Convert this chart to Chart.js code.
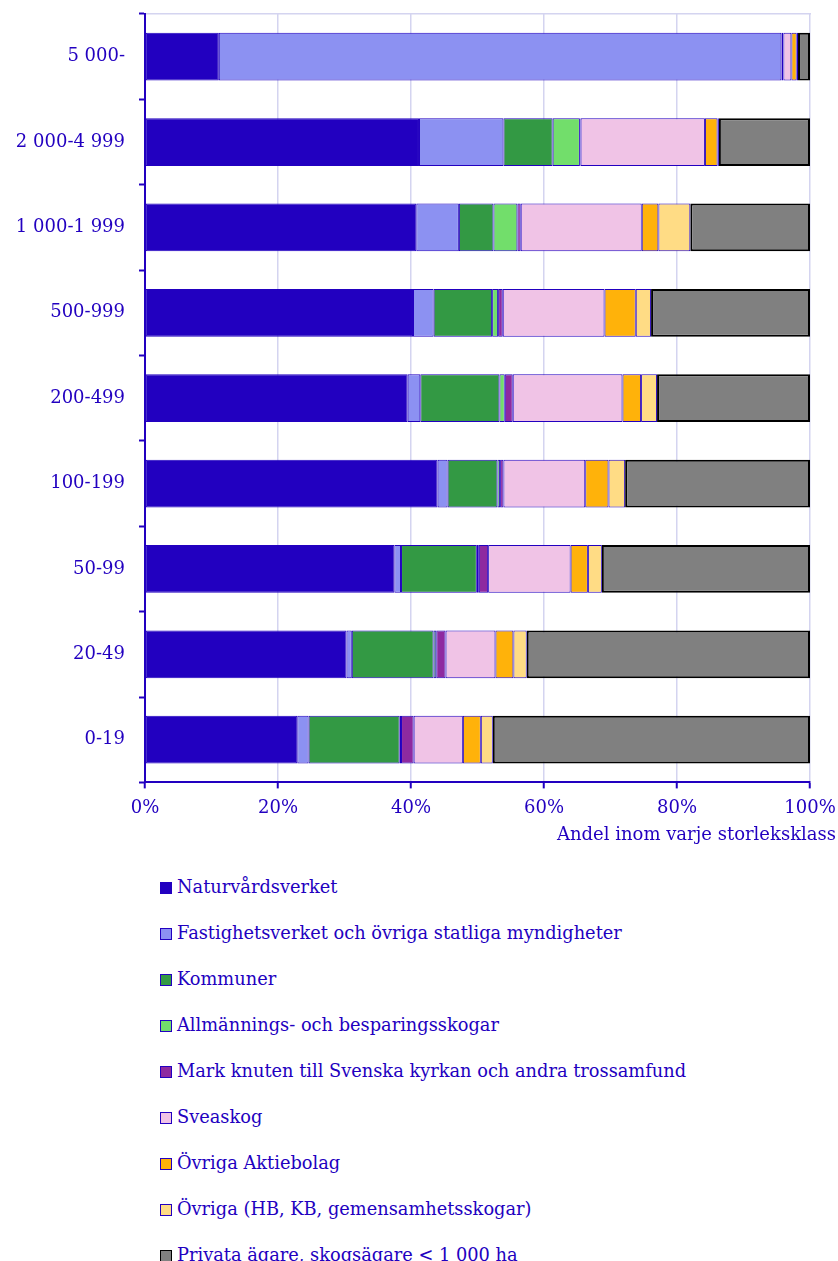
<!DOCTYPE html>
<html>
<head>
<meta charset="utf-8">
<script src="https://cdn.jsdelivr.net/npm/chart.js@4/dist/chart.umd.min.js"></script>
<style>
  html, body { margin: 0; padding: 0; background: #fff; }
  #wrap { position: relative; width: 838px; height: 1261px; overflow: hidden; }
  #c { position: absolute; left: 0; top: 0; }
  #legend { position: absolute; left: 160px; top: 876px; margin: 0; padding: 0; list-style: none;
            font-family: "DejaVu Serif", serif; font-size: 17.8px; color: #2200c0; }
  #legend li { height: 46px; display: flex; align-items: flex-start; white-space: nowrap; }
  #legend .box { width: 10px; height: 10px; margin-top: 6px; margin-right: 5px; border: 1px solid #2200c0; flex: none; }
  #legend .txt { line-height: 22px; }
</style>
</head>
<body>
<div id="wrap">
  <canvas id="c" width="838" height="850"></canvas>
  <ul id="legend"></ul>
</div>
<script>
const categories = ["5 000-", "2 000-4 999", "1 000-1 999", "500-999", "200-499", "100-199", "50-99", "20-49", "0-19"];
const seriesNames = [
  "Naturvårdsverket",
  "Fastighetsverket och övriga statliga myndigheter",
  "Kommuner",
  "Allmännings- och besparingsskogar",
  "Mark knuten till Svenska kyrkan och andra trossamfund",
  "Sveaskog",
  "Övriga Aktiebolag",
  "Övriga (HB, KB, gemensamhetsskogar)",
  "Privata ägare, skogsägare < 1 000 ha"
];
const naturvardsverket = [11.1, 41.2, 40.8, 40.3, 39.5, 44.0, 37.5, 30.3, 22.9];
const fastighetsverket = [84.6, 12.7, 6.4, 3.1, 1.9, 1.5, 1.0, 0.8, 1.7];
const kommuner        = [0.0, 7.4, 5.2, 8.8, 11.9, 7.5, 11.4, 12.3, 13.7];
const allmannings     = [0.0, 4.1, 3.6, 0.9, 0.8, 0.4, 0.3, 0.4, 0.2];
const kyrkan          = [0.3, 0.1, 0.5, 0.7, 1.2, 0.5, 1.4, 1.4, 1.9];
const sveaskog        = [1.2, 18.7, 18.2, 15.3, 16.5, 12.3, 12.4, 7.5, 7.4];
const ovrigaAB        = [0.8, 1.9, 2.5, 4.7, 2.8, 3.5, 2.6, 2.7, 2.7];
const ovrigaHB        = [0.2, 0.2, 4.8, 2.3, 2.4, 2.5, 2.1, 2.0, 1.8];
const privata         = [1.8, 13.7, 18.0, 23.9, 23.0, 27.8, 31.3, 42.6, 47.7];
const xTicks = ["0%", "20%", "40%", "60%", "80%", "100%"];
const xTitle = "Andel inom varje storleksklass";

const seriesValues = [naturvardsverket, fastighetsverket, kommuner, allmannings, kyrkan, sveaskog, ovrigaAB, ovrigaHB, privata];
const fills = ["#2200c0", "#8c91f2", "#339944", "#72de6b", "#8e2aa0", "#f0c3e6", "#ffb20a", "#ffdc85", "#808080"];
const borders = ["#2200c0", "#2200c0", "#2200c0", "#2200c0", "#2200c0", "#2200c0", "#2200c0", "#2200c0", "#000000"];
const bw = [1, 1, 1, 1, 1, 1, 1, 1, 2];

const BLUE = "#2200c0";
const GRID = "#d4d4f0";
const FONT = "DejaVu Serif";

const datasets = seriesNames.map((n, i) => ({
  label: n,
  data: seriesValues[i],
  backgroundColor: fills[i],
  borderColor: borders[i],
  borderWidth: bw[i],
  borderSkipped: false,
  barPercentage: 0.8,
  categoryPercentage: 0.7
}));

const chart = new Chart(document.getElementById("c"), {
  type: "bar",
  data: { labels: categories, datasets },
  options: {
    indexAxis: "y",
    responsive: false,
    animation: false,
    layout: { padding: { top: 14, right: 2, left: 0, bottom: 3 } },
    plugins: {
      legend: { display: false },
      tooltip: { enabled: false },
      title: {
        display: true, text: xTitle, position: "bottom", align: "end",
        color: BLUE, font: { family: FONT, size: 18, weight: "normal" },
        padding: { top: 2, bottom: 1 }
      }
    },
    scales: {
      x: {
        stacked: true, min: 0, max: 100,
        afterBuildTicks: (s) => { s.ticks = xTicks.map((t, i) => ({ value: i * 20 })); },
        afterFit: (s) => { s.height = 40; s.paddingLeft = 0; s.paddingRight = 28; },
        ticks: {
          callback: (v, i) => xTicks[i],
          color: BLUE, font: { family: FONT, size: 18 }, padding: 9, maxRotation: 0
        },
        grid: { color: GRID, lineWidth: 1.5, tickColor: BLUE, tickLength: 6, tickWidth: 2 },
        border: { color: BLUE, width: 2 }
      },
      xTop: {
        axis: "x", position: "top", min: 0, max: 100,
        afterFit: (s) => { s.height = 0; s.paddingLeft = 0; s.paddingRight = 0; },
        ticks: { display: false },
        grid: { display: false, drawTicks: false },
        border: { display: true, color: GRID, width: 1.5 }
      },
      y: {
        stacked: true,
        afterFit: (s) => { s.width = 145; s.paddingTop = 0; s.paddingBottom = 0; },
        ticks: { color: BLUE, font: { family: FONT, size: 18 }, padding: 14 },
        grid: { drawOnChartArea: false, tickColor: BLUE, tickLength: 6, tickWidth: 2, offset: true },
        border: { color: BLUE, width: 2 }
      }
    }
  }
});

const ul = document.getElementById("legend");
chart.data.datasets.forEach((d) => {
  const li = document.createElement("li");
  const b = document.createElement("span");
  b.className = "box";
  b.style.background = d.backgroundColor;
  b.style.borderColor = d.borderColor;
  const t = document.createElement("span");
  t.className = "txt";
  t.textContent = d.label;
  li.appendChild(b); li.appendChild(t);
  ul.appendChild(li);
});
</script>
</body>
</html>
